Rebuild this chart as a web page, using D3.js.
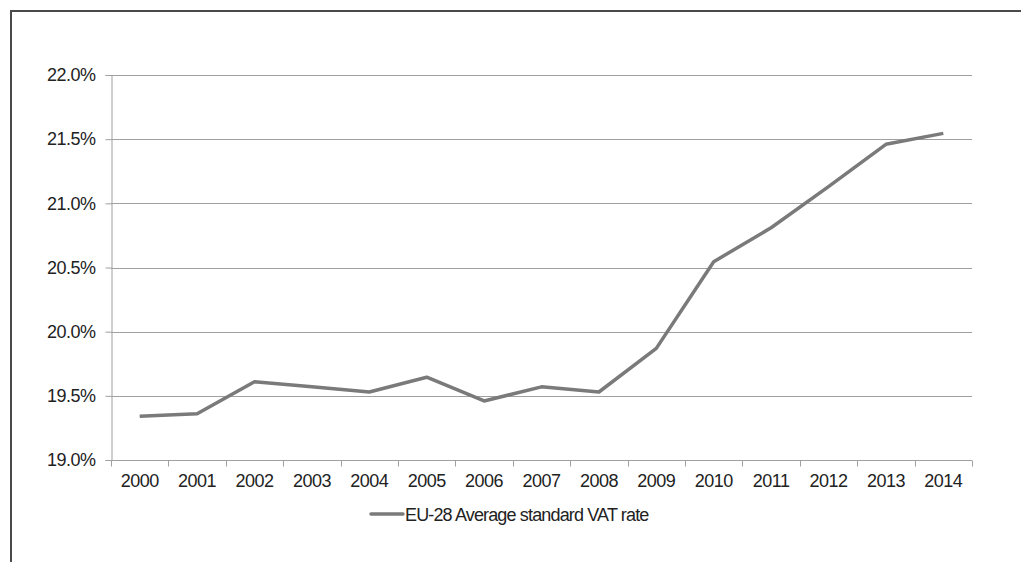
<!DOCTYPE html>
<html><head><meta charset="utf-8">
<script src="https://cdn.jsdelivr.net/npm/d3@7"></script>
<style>
html,body{margin:0;padding:0;background:#fff;}
svg{display:block;font-family:"Liberation Sans",Arial,sans-serif;}
</style></head>
<body>
<svg id="chart" width="1021" height="562"></svg>
<script>
const years = ["2000","2001","2002","2003","2004","2005","2006","2007","2008","2009","2010","2011","2012","2013","2014"];
const vatRate = [19.34,19.36,19.61,19.57,19.53,19.645,19.46,19.57,19.53,19.87,20.545,20.81,21.13,21.46,21.545];
const yTicks = [19.0,19.5,20.0,20.5,21.0,21.5,22.0];
const seriesName = "EU-28 Average standard VAT rate";

const svg = d3.select("#chart");
const mLeft = 111, mRight = 972, mTop = 75, mBottom = 460;
const x = d3.scaleBand().domain(years).range([mLeft, mRight]).padding(0);
const y = d3.scaleLinear().domain([19, 22]).range([mBottom, mTop]);

// outer border (top + left)
svg.append("path").attr("d", "M11,562 L11,11 L1021,11")
  .attr("fill","none").attr("stroke","#4a4a4a").attr("stroke-width",2);

// gridlines
svg.append("g").selectAll("line").data(yTicks.filter(d=>d>19)).join("line")
  .attr("x1", mLeft).attr("x2", mRight)
  .attr("y1", d=>Math.round(y(d))+0.5).attr("y2", d=>Math.round(y(d))+0.5)
  .attr("stroke","#a0a0a0").attr("stroke-width",1);

// y axis
const yAxis = svg.append("g").attr("transform",`translate(${mLeft+0.5},0)`)
  .call(d3.axisLeft(y).tickValues(yTicks).tickSize(6).tickPadding(10)
    .tickFormat(d=>d3.format(".1f")(d)+"%"));
yAxis.select(".domain").attr("stroke","#a0a0a0");
yAxis.selectAll(".tick line").attr("stroke","#a0a0a0");
yAxis.selectAll(".tick text").attr("fill","#222").style("font-size","18px")
  .style("letter-spacing","-0.5px");

// x axis
const xAxis = svg.append("g").attr("transform",`translate(0,${mBottom+0.5})`)
  .call(d3.axisBottom(x).tickSize(0).tickPadding(14));
xAxis.select(".domain").attr("d", `M${mLeft},0H${mRight}`).attr("stroke","#a0a0a0");
xAxis.selectAll(".tick text").attr("fill","#222").style("font-size","18px")
  .style("letter-spacing","-0.5px");
const bounds = years.map(d=>x(d)).concat([x(years[years.length-1])+x.bandwidth()]);
xAxis.append("g").selectAll("line").data(bounds).join("line")
  .attr("x1", d=>Math.round(d)+0.5).attr("x2", d=>Math.round(d)+0.5)
  .attr("y1",0).attr("y2",6).attr("stroke","#a0a0a0");

// series line
const line = d3.line().x((d,i)=>x(years[i])+x.bandwidth()/2).y(d=>y(d));
svg.append("path").datum(vatRate).attr("d", line)
  .attr("fill","none").attr("stroke","#7a7a7a").attr("stroke-width",3.5)
  .attr("stroke-linejoin","round");

// legend
const lg = svg.append("g");
lg.append("line").attr("x1",371).attr("x2",403).attr("y1",514).attr("y2",514)
  .attr("stroke","#7a7a7a").attr("stroke-width",3.5).attr("stroke-linecap","round");
lg.append("text").attr("x",405).attr("y",520.5).text(seriesName)
  .attr("fill","#222").style("font-size","18px").style("letter-spacing","-0.85px");
</script>
</body></html>
